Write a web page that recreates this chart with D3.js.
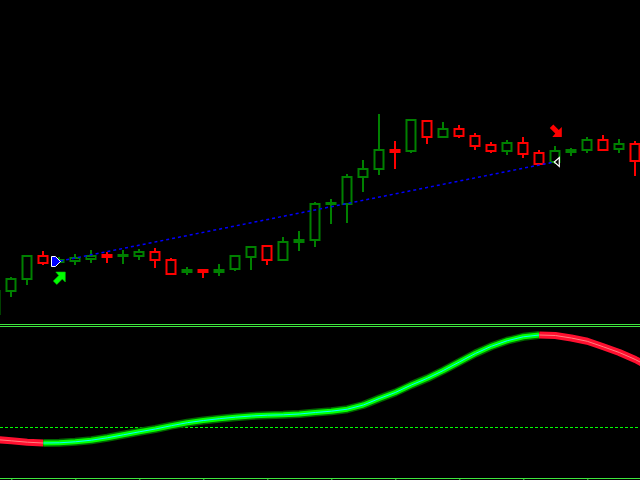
<!DOCTYPE html>
<html><head><meta charset="utf-8">
<script src="https://cdn.jsdelivr.net/npm/d3@7"></script>
<style>html,body{margin:0;padding:0;background:#000;overflow:hidden}svg{display:block}</style>
</head><body><svg id="c" width="640" height="480"></svg>
<script>
// ---- data ----
const barIdx = d3.range(-1, 40);          // candle indices
const open  = [1.1006,1.1029,1.1041,1.1064,1.1058,1.1059,1.1061,1.1065,1.1064,1.1064,1.1068,1.1060,1.1048,1.1050,1.1048,1.1051,1.1063,1.1074,1.1060,1.1078,1.1080,1.1116,1.1116,1.1143,1.1151,1.1170,1.1169,1.1199,1.1183,1.1191,1.1184,1.1175,1.1169,1.1177,1.1167,1.1158,1.1168,1.1170,1.1180,1.1171,1.1176];
const high  = [1.1031,1.1043,1.1065,1.1069,1.1063,1.1066,1.1070,1.1068,1.1070,1.1071,1.1072,1.1062,1.1053,1.1051,1.1056,1.1065,1.1074,1.1075,1.1083,1.1089,1.1118,1.1121,1.1146,1.1160,1.1206,1.1179,1.1201,1.1200,1.1198,1.1195,1.1187,1.1178,1.1180,1.1183,1.1170,1.1174,1.1172,1.1183,1.1185,1.1181,1.1179];
const low   = [1.1002,1.1023,1.1035,1.1055,1.1057,1.1055,1.1057,1.1057,1.1056,1.1060,1.1052,1.1046,1.1045,1.1042,1.1044,1.1049,1.1050,1.1055,1.1059,1.1069,1.1073,1.1096,1.1097,1.1128,1.1145,1.1151,1.1167,1.1176,1.1182,1.1182,1.1170,1.1167,1.1165,1.1162,1.1156,1.1156,1.1164,1.1167,1.1169,1.1167,1.1144];
const close = [1.1029,1.1041,1.1064,1.1057,1.1060,1.1062,1.1064,1.1063,1.1065,1.1068,1.1060,1.1046,1.1050,1.1048,1.1050,1.1064,1.1073,1.1060,1.1078,1.1080,1.1116,1.1117,1.1143,1.1151,1.1170,1.1168,1.1200,1.1183,1.1191,1.1184,1.1174,1.1169,1.1177,1.1166,1.1156,1.1169,1.1170,1.1180,1.1170,1.1176,1.1159];
const oscIdx = d3.range(-1, 41);
const osc = [-0.125,-0.138,-0.152,-0.160,-0.158,-0.148,-0.132,-0.108,-0.078,-0.048,-0.020,0.013,0.043,0.065,0.083,0.098,0.110,0.118,0.122,0.130,0.145,0.158,0.178,0.220,0.285,0.345,0.420,0.487,0.565,0.650,0.735,0.807,0.863,0.902,0.920,0.915,0.890,0.857,0.802,0.745,0.675,0.590];
const oscLevel = [0];
const buyIdx = [3], sellIdx = [34];
const tradeIdx = [3, 34], tradePrice = [1.1059, 1.1158];
const timeTicks = d3.range(0, 40, 4);

// ---- scales ----
const svg = d3.select('#c');
svg.append('rect').attr('width',640).attr('height',480).attr('fill','#000');
const x = d3.scaleLinear().domain([0, 39]).range([11.3, 635.3]);
const y = d3.scaleLinear().domain([1.1000, 1.1320]).range([320, 0]);
const yo = d3.scaleLinear().domain([-0.5, 1.0]).range([477, 327]);
const GREEN = '#008000', RED = '#ff0000', FRAME = '#3ee63e';

// ---- candles ----
const bars = barIdx.map((b,i)=>({b,o:open[i],h:high[i],l:low[i],c:close[i]}));
const main = svg.append('g');
const g = main.selectAll('g.bar').data(bars).join('g')
  .attr('stroke', d => d.c >= d.o ? GREEN : RED).attr('stroke-width', 2);
g.append('line').attr('x1', d=>Math.round(x(d.b))).attr('x2', d=>Math.round(x(d.b)))
  .attr('y1', d=>y(d.h)).attr('y2', d=>y(d.l));
g.append('rect').attr('x', d=>Math.round(x(d.b))-4.5).attr('width', 9)
  .attr('y', d=>y(Math.max(d.o,d.c))).attr('height', d=>Math.max(1, y(Math.min(d.o,d.c))-y(Math.max(d.o,d.c))))
  .attr('fill','#000');

// ---- trade line ----
main.append('line')
  .attr('x1', x(tradeIdx[0])+1).attr('y1', y(tradePrice[0]))
  .attr('x2', x(tradeIdx[1])-1).attr('y2', y(tradePrice[1]))
  .attr('stroke','#0000ff').attr('stroke-width',1.5).attr('stroke-dasharray','3,3');
{
  const ex = Math.round(x(tradeIdx[0]))+1, ey = Math.round(y(tradePrice[0]))+0.5;
  main.append('path').attr('d',`M${ex-8.5},${ey-5} L${ex-4.5},${ey-5} L${ex+0.5},${ey} L${ex-4.5},${ey+5} L${ex-8.5},${ey+5} Z`)
    .attr('fill','#0000ff').attr('stroke','#fff').attr('stroke-width',1);
  main.append('path').attr('d',`M${ex-7},${ey-3} L${ex-5},${ey-3} L${ex-2},${ey} L${ex-5},${ey+3} L${ex-7},${ey+3} Z`)
    .attr('fill','#0000ff');
  const qx = x(tradeIdx[1])-1, qy = y(tradePrice[1]);
  main.append('path').attr('d',`M${qx},${qy} L${qx+5},${qy-4.5} L${qx+5},${qy+4.5} Z`)
    .attr('fill','#000').attr('stroke','#fff').attr('stroke-width',1.2);
}
// signal arrows
buyIdx.forEach(i=>{
  const k = i+1, cx = x(i), top = y(low[k]) + 9;
  const x0 = cx - 6;
  main.append('path').attr('d',
    `M${x0+12},${top} L${x0+12},${top+10} L${x0+9},${top+7} L${x0+3.5},${top+12.5} L${x0},${top+9} L${x0+5.5},${top+3.5} L${x0+2.5},${top} Z`)
    .attr('fill','#00ff00').attr('stroke','#00c000').attr('stroke-width',0.6);
});
sellIdx.forEach(i=>{
  const k = i+1, cx = x(i), bot = y(high[k]) - 9;
  const x0 = cx - 5.5;
  main.append('path').attr('d',
    `M${x0+12},${bot} L${x0+12},${bot-10} L${x0+9},${bot-7} L${x0+3.5},${bot-12.5} L${x0},${bot-9} L${x0+5.5},${bot-3.5} L${x0+2.5},${bot} Z`)
    .attr('fill','#ff0000');
});

// ---- frames ----
svg.append('line').attr('x1',0).attr('x2',640).attr('y1',324.5).attr('y2',324.5).attr('stroke',FRAME).attr('stroke-width',1);
svg.append('line').attr('x1',0).attr('x2',640).attr('y1',326.5).attr('y2',326.5).attr('stroke',FRAME).attr('stroke-width',1);

// ---- oscillator ----
const sub = svg.append('g');
sub.selectAll('line.lvl').data(oscLevel).join('line')
  .attr('x1',0).attr('x2',640).attr('y1',d=>Math.round(yo(d))+0.5).attr('y2',d=>Math.round(yo(d))+0.5)
  .attr('stroke','#00ff00').attr('stroke-width',1).attr('stroke-dasharray','3,2');

const pts = oscIdx.map((b,i)=>({b,v:osc[i]}));
const runs = [];
for (let i=0;i<pts.length-1;i++){
  const col = pts[i+1].v >= pts[i].v ? 'up' : 'dn';
  if (!runs.length || runs[runs.length-1].col !== col) runs.push({col, p:[pts[i]]});
  runs[runs.length-1].p.push(pts[i+1]);
}
const ln = d3.line().x(d=>x(d.b)).y(d=>yo(d.v));
runs.forEach(r=>{
  const layers = r.col==='up'
    ? [['#006400',8],['#00ff00',5],['#00ffff',1]]
    : [['#ff1030',7],['#ff1030',5],['#ff8080',1]];
  layers.forEach(([c,w])=>sub.append('path').attr('d',ln(r.p)).attr('fill','none')
    .attr('stroke',c).attr('stroke-width',w).attr('stroke-linejoin','round'));
});

// ---- time axis ----
const ax = svg.append('g').attr('transform','translate(0,478.5)')
  .call(d3.axisBottom(x).tickValues(timeTicks).tickFormat('').tickSize(4).tickSizeOuter(0));
ax.select('.domain').attr('stroke',FRAME).attr('d','M0,0H640');
ax.selectAll('.tick line').attr('stroke',FRAME);
</script></body></html>
